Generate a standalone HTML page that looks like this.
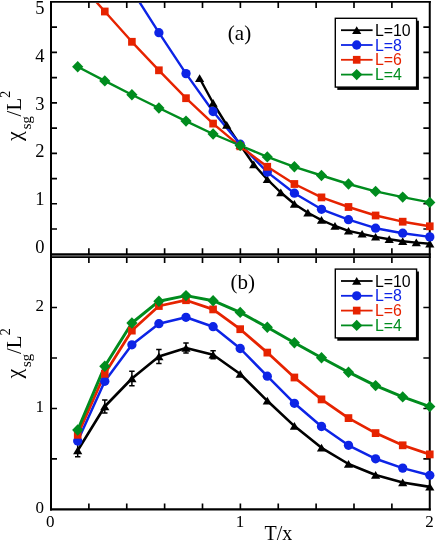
<!DOCTYPE html>
<html><head><meta charset="utf-8"><title>chart</title>
<style>
html,body{margin:0;padding:0;background:#fff;}
body{width:436px;height:544px;overflow:hidden;font-family:"Liberation Serif",serif;}
svg{display:block;will-change:transform;}
svg text{font-family:"Liberation Serif",serif;fill:#000;}
</style></head><body>
<svg width="436" height="544" viewBox="0 0 436 544">
<defs>
<clipPath id="ca"><rect x="40" y="3.0" width="400" height="256.3"/></clipPath>
<clipPath id="cb"><rect x="40" y="258.1" width="400" height="256.3"/></clipPath>
</defs>
<rect width="436" height="544" fill="#fff"/>
<path d="M50 255.7 H430.7" stroke="#7a7a7a" stroke-width="1.2"/>
<path d="M50.00 1.95 H430.75" stroke="#000" stroke-width="1.8"/>
<path d="M50.00 254.25 H430.75" stroke="#000" stroke-width="1.9"/>
<path d="M50.00 257.05 H430.75" stroke="#000" stroke-width="1.7"/>
<path d="M50.00 509.40 H430.75" stroke="#000" stroke-width="2.3"/>
<path d="M51.00 1.05 V510.55" stroke="#000" stroke-width="2.0"/>
<path d="M429.75 1.05 V510.55" stroke="#000" stroke-width="2.0"/>
<path d="M88.88 1.95 v6.00 M88.88 254.25 v-6.00 M88.88 257.05 v6.00 M88.88 509.40 v-6.00 M126.75 1.95 v6.00 M126.75 254.25 v-6.00 M126.75 257.05 v6.00 M126.75 509.40 v-6.00 M164.62 1.95 v6.00 M164.62 254.25 v-6.00 M164.62 257.05 v6.00 M164.62 509.40 v-6.00 M202.50 1.95 v6.00 M202.50 254.25 v-6.00 M202.50 257.05 v6.00 M202.50 509.40 v-6.00 M240.38 1.95 v6.00 M240.38 254.25 v-6.00 M240.38 257.05 v6.00 M240.38 509.40 v-6.00 M278.25 1.95 v6.00 M278.25 254.25 v-6.00 M278.25 257.05 v6.00 M278.25 509.40 v-6.00 M316.12 1.95 v6.00 M316.12 254.25 v-6.00 M316.12 257.05 v6.00 M316.12 509.40 v-6.00 M354.00 1.95 v6.00 M354.00 254.25 v-6.00 M354.00 257.05 v6.00 M354.00 509.40 v-6.00 M391.88 1.95 v6.00 M391.88 254.25 v-6.00 M391.88 257.05 v6.00 M391.88 509.40 v-6.00 M51.00 229.02 h6.00 M429.75 229.02 h-6.40 M51.00 203.79 h6.00 M429.75 203.79 h-6.40 M51.00 178.56 h6.00 M429.75 178.56 h-6.40 M51.00 153.33 h6.00 M429.75 153.33 h-6.40 M51.00 128.10 h6.00 M429.75 128.10 h-6.40 M51.00 102.87 h6.00 M429.75 102.87 h-6.40 M51.00 77.64 h6.00 M429.75 77.64 h-6.40 M51.00 52.41 h6.00 M429.75 52.41 h-6.40 M51.00 27.18 h6.00 M429.75 27.18 h-6.40 M51.00 458.93 h6.00 M429.75 458.93 h-6.40 M51.00 408.46 h6.00 M429.75 408.46 h-6.40 M51.00 357.99 h6.00 M429.75 357.99 h-6.40 M51.00 307.52 h6.00 M429.75 307.52 h-6.40" stroke="#000" stroke-width="1.65" fill="none"/>
<g clip-path="url(#ca)">
<polyline fill="none" stroke="#000000" stroke-width="2.4" stroke-linejoin="round" points="199.6,78.2 213.1,103.0 226.7,125.0 240.2,145.0 253.7,164.5 267.3,179.4 280.8,192.5 294.4,204.0 307.9,212.8 321.5,220.1 335.0,226.0 348.5,230.9 362.1,233.9 375.6,236.9 389.2,239.2 402.7,241.3 416.3,242.6 429.8,243.8"/>
<polyline fill="none" stroke="#0d24e6" stroke-width="2.4" stroke-linejoin="round" points="131.9,-9.8 158.9,32.7 186.0,73.6 213.1,111.5 240.2,144.2 267.3,172.1 294.4,193.2 321.5,209.3 348.5,219.7 375.6,228.2 402.7,233.2 429.8,236.9"/>
<polyline fill="none" stroke="#e62300" stroke-width="2.4" stroke-linejoin="round" points="77.7,-19.0 104.8,11.5 131.9,41.8 158.9,70.3 186.0,98.2 213.1,123.6 240.2,146.3 267.3,166.8 294.4,184.0 321.5,197.4 348.5,207.0 375.6,215.5 402.7,221.7 429.8,226.3"/>
<polyline fill="none" stroke="#008c1e" stroke-width="2.4" stroke-linejoin="round" points="77.7,66.7 104.8,80.9 131.9,94.7 158.9,108.0 186.0,121.1 213.1,134.0 240.2,145.5 267.3,156.9 294.4,166.8 321.5,175.5 348.5,184.0 375.6,191.4 402.7,197.1 429.8,202.4"/>
<path d="M199.6 74.2 l4.6 7.7 l-9.2 0z" fill="#000000"/>
<path d="M213.1 99.0 l4.6 7.7 l-9.2 0z" fill="#000000"/>
<path d="M226.7 121.0 l4.6 7.7 l-9.2 0z" fill="#000000"/>
<path d="M240.2 141.0 l4.6 7.7 l-9.2 0z" fill="#000000"/>
<path d="M253.7 160.5 l4.6 7.7 l-9.2 0z" fill="#000000"/>
<path d="M267.3 175.4 l4.6 7.7 l-9.2 0z" fill="#000000"/>
<path d="M280.8 188.5 l4.6 7.7 l-9.2 0z" fill="#000000"/>
<path d="M294.4 200.0 l4.6 7.7 l-9.2 0z" fill="#000000"/>
<path d="M307.9 208.8 l4.6 7.7 l-9.2 0z" fill="#000000"/>
<path d="M321.5 216.1 l4.6 7.7 l-9.2 0z" fill="#000000"/>
<path d="M335.0 222.0 l4.6 7.7 l-9.2 0z" fill="#000000"/>
<path d="M348.5 226.9 l4.6 7.7 l-9.2 0z" fill="#000000"/>
<path d="M362.1 229.9 l4.6 7.7 l-9.2 0z" fill="#000000"/>
<path d="M375.6 232.9 l4.6 7.7 l-9.2 0z" fill="#000000"/>
<path d="M389.2 235.2 l4.6 7.7 l-9.2 0z" fill="#000000"/>
<path d="M402.7 237.3 l4.6 7.7 l-9.2 0z" fill="#000000"/>
<path d="M416.3 238.6 l4.6 7.7 l-9.2 0z" fill="#000000"/>
<path d="M429.8 239.8 l4.6 7.7 l-9.2 0z" fill="#000000"/>
<circle cx="131.9" cy="-9.8" r="4.65" fill="#0d24e6"/>
<circle cx="158.9" cy="32.7" r="4.65" fill="#0d24e6"/>
<circle cx="186.0" cy="73.6" r="4.65" fill="#0d24e6"/>
<circle cx="213.1" cy="111.5" r="4.65" fill="#0d24e6"/>
<circle cx="240.2" cy="144.2" r="4.65" fill="#0d24e6"/>
<circle cx="267.3" cy="172.1" r="4.65" fill="#0d24e6"/>
<circle cx="294.4" cy="193.2" r="4.65" fill="#0d24e6"/>
<circle cx="321.5" cy="209.3" r="4.65" fill="#0d24e6"/>
<circle cx="348.5" cy="219.7" r="4.65" fill="#0d24e6"/>
<circle cx="375.6" cy="228.2" r="4.65" fill="#0d24e6"/>
<circle cx="402.7" cy="233.2" r="4.65" fill="#0d24e6"/>
<circle cx="429.8" cy="236.9" r="4.65" fill="#0d24e6"/>
<rect x="73.9" y="-22.9" width="7.6" height="7.8" fill="#e62300"/>
<rect x="101.0" y="7.6" width="7.6" height="7.8" fill="#e62300"/>
<rect x="128.1" y="37.9" width="7.6" height="7.8" fill="#e62300"/>
<rect x="155.1" y="66.4" width="7.6" height="7.8" fill="#e62300"/>
<rect x="182.2" y="94.3" width="7.6" height="7.8" fill="#e62300"/>
<rect x="209.3" y="119.7" width="7.6" height="7.8" fill="#e62300"/>
<rect x="236.4" y="142.4" width="7.6" height="7.8" fill="#e62300"/>
<rect x="263.5" y="162.9" width="7.6" height="7.8" fill="#e62300"/>
<rect x="290.6" y="180.1" width="7.6" height="7.8" fill="#e62300"/>
<rect x="317.7" y="193.5" width="7.6" height="7.8" fill="#e62300"/>
<rect x="344.7" y="203.1" width="7.6" height="7.8" fill="#e62300"/>
<rect x="371.8" y="211.6" width="7.6" height="7.8" fill="#e62300"/>
<rect x="398.9" y="217.8" width="7.6" height="7.8" fill="#e62300"/>
<rect x="426.0" y="222.4" width="7.6" height="7.8" fill="#e62300"/>
<path d="M77.7 61.0 l5.6 5.7 l-5.6 5.7 l-5.6 -5.7z" fill="#008c1e"/>
<path d="M104.8 75.2 l5.6 5.7 l-5.6 5.7 l-5.6 -5.7z" fill="#008c1e"/>
<path d="M131.9 89.0 l5.6 5.7 l-5.6 5.7 l-5.6 -5.7z" fill="#008c1e"/>
<path d="M158.9 102.3 l5.6 5.7 l-5.6 5.7 l-5.6 -5.7z" fill="#008c1e"/>
<path d="M186.0 115.4 l5.6 5.7 l-5.6 5.7 l-5.6 -5.7z" fill="#008c1e"/>
<path d="M213.1 128.3 l5.6 5.7 l-5.6 5.7 l-5.6 -5.7z" fill="#008c1e"/>
<path d="M240.2 139.8 l5.6 5.7 l-5.6 5.7 l-5.6 -5.7z" fill="#008c1e"/>
<path d="M267.3 151.2 l5.6 5.7 l-5.6 5.7 l-5.6 -5.7z" fill="#008c1e"/>
<path d="M294.4 161.1 l5.6 5.7 l-5.6 5.7 l-5.6 -5.7z" fill="#008c1e"/>
<path d="M321.5 169.8 l5.6 5.7 l-5.6 5.7 l-5.6 -5.7z" fill="#008c1e"/>
<path d="M348.5 178.3 l5.6 5.7 l-5.6 5.7 l-5.6 -5.7z" fill="#008c1e"/>
<path d="M375.6 185.7 l5.6 5.7 l-5.6 5.7 l-5.6 -5.7z" fill="#008c1e"/>
<path d="M402.7 191.4 l5.6 5.7 l-5.6 5.7 l-5.6 -5.7z" fill="#008c1e"/>
<path d="M429.8 196.7 l5.6 5.7 l-5.6 5.7 l-5.6 -5.7z" fill="#008c1e"/>
</g>
<g clip-path="url(#cb)">
<polyline fill="none" stroke="#000000" stroke-width="2.6" stroke-linejoin="round" points="77.7,450.5 104.8,406.5 131.9,378.5 158.9,356.5 186.0,348.0 213.1,354.7 240.2,374.0 267.3,400.8 294.4,426.1 321.5,447.8 348.5,464.0 375.6,475.0 402.7,482.5 429.8,486.9"/>
<polyline fill="none" stroke="#0d24e6" stroke-width="2.5" stroke-linejoin="round" points="77.7,441.0 104.8,381.3 131.9,344.8 158.9,323.7 186.0,317.3 213.1,326.7 240.2,348.5 267.3,376.2 294.4,403.3 321.5,426.5 348.5,445.3 375.6,458.8 402.7,468.1 429.8,475.3"/>
<polyline fill="none" stroke="#e62300" stroke-width="2.75" stroke-linejoin="round" points="77.7,434.8 104.8,373.8 131.9,330.6 158.9,306.0 186.0,300.2 213.1,309.4 240.2,329.2 267.3,352.6 294.4,377.5 321.5,399.4 348.5,418.1 375.6,433.1 402.7,445.3 429.8,454.4"/>
<polyline fill="none" stroke="#008c1e" stroke-width="3.0" stroke-linejoin="round" points="77.7,430.0 104.8,366.2 131.9,323.0 158.9,301.2 186.0,295.6 213.1,300.7 240.2,312.4 267.3,327.3 294.4,342.7 321.5,357.8 348.5,372.2 375.6,385.6 402.7,396.9 429.8,406.6"/>
<path d="M77.7 444.3 V456.7 M75.0 444.3 h5.4 M75.0 456.7 h5.4" stroke="#000" stroke-width="1.5" fill="none"/>
<path d="M104.8 400.0 V413.0 M102.1 400.0 h5.4 M102.1 413.0 h5.4" stroke="#000" stroke-width="1.5" fill="none"/>
<path d="M131.9 371.3 V385.7 M129.2 371.3 h5.4 M129.2 385.7 h5.4" stroke="#000" stroke-width="1.5" fill="none"/>
<path d="M158.9 349.5 V363.5 M156.2 349.5 h5.4 M156.2 363.5 h5.4" stroke="#000" stroke-width="1.5" fill="none"/>
<path d="M186.0 343.0 V353.0 M183.3 343.0 h5.4 M183.3 353.0 h5.4" stroke="#000" stroke-width="1.5" fill="none"/>
<path d="M213.1 350.7 V358.7 M210.4 350.7 h5.4 M210.4 358.7 h5.4" stroke="#000" stroke-width="1.5" fill="none"/>
<path d="M77.7 446.5 l4.6 7.7 l-9.2 0z" fill="#000000"/>
<path d="M104.8 402.5 l4.6 7.7 l-9.2 0z" fill="#000000"/>
<path d="M131.9 374.5 l4.6 7.7 l-9.2 0z" fill="#000000"/>
<path d="M158.9 352.5 l4.6 7.7 l-9.2 0z" fill="#000000"/>
<path d="M186.0 344.0 l4.6 7.7 l-9.2 0z" fill="#000000"/>
<path d="M213.1 350.7 l4.6 7.7 l-9.2 0z" fill="#000000"/>
<path d="M240.2 370.0 l4.6 7.7 l-9.2 0z" fill="#000000"/>
<path d="M267.3 396.8 l4.6 7.7 l-9.2 0z" fill="#000000"/>
<path d="M294.4 422.1 l4.6 7.7 l-9.2 0z" fill="#000000"/>
<path d="M321.5 443.8 l4.6 7.7 l-9.2 0z" fill="#000000"/>
<path d="M348.5 460.0 l4.6 7.7 l-9.2 0z" fill="#000000"/>
<path d="M375.6 471.0 l4.6 7.7 l-9.2 0z" fill="#000000"/>
<path d="M402.7 478.5 l4.6 7.7 l-9.2 0z" fill="#000000"/>
<path d="M429.8 482.9 l4.6 7.7 l-9.2 0z" fill="#000000"/>
<circle cx="77.7" cy="441.0" r="4.65" fill="#0d24e6"/>
<circle cx="104.8" cy="381.3" r="4.65" fill="#0d24e6"/>
<circle cx="131.9" cy="344.8" r="4.65" fill="#0d24e6"/>
<circle cx="158.9" cy="323.7" r="4.65" fill="#0d24e6"/>
<circle cx="186.0" cy="317.3" r="4.65" fill="#0d24e6"/>
<circle cx="213.1" cy="326.7" r="4.65" fill="#0d24e6"/>
<circle cx="240.2" cy="348.5" r="4.65" fill="#0d24e6"/>
<circle cx="267.3" cy="376.2" r="4.65" fill="#0d24e6"/>
<circle cx="294.4" cy="403.3" r="4.65" fill="#0d24e6"/>
<circle cx="321.5" cy="426.5" r="4.65" fill="#0d24e6"/>
<circle cx="348.5" cy="445.3" r="4.65" fill="#0d24e6"/>
<circle cx="375.6" cy="458.8" r="4.65" fill="#0d24e6"/>
<circle cx="402.7" cy="468.1" r="4.65" fill="#0d24e6"/>
<circle cx="429.8" cy="475.3" r="4.65" fill="#0d24e6"/>
<rect x="73.9" y="430.9" width="7.6" height="7.8" fill="#e62300"/>
<rect x="101.0" y="369.9" width="7.6" height="7.8" fill="#e62300"/>
<rect x="128.1" y="326.7" width="7.6" height="7.8" fill="#e62300"/>
<rect x="155.1" y="302.1" width="7.6" height="7.8" fill="#e62300"/>
<rect x="182.2" y="296.3" width="7.6" height="7.8" fill="#e62300"/>
<rect x="209.3" y="305.5" width="7.6" height="7.8" fill="#e62300"/>
<rect x="236.4" y="325.3" width="7.6" height="7.8" fill="#e62300"/>
<rect x="263.5" y="348.7" width="7.6" height="7.8" fill="#e62300"/>
<rect x="290.6" y="373.6" width="7.6" height="7.8" fill="#e62300"/>
<rect x="317.7" y="395.5" width="7.6" height="7.8" fill="#e62300"/>
<rect x="344.7" y="414.2" width="7.6" height="7.8" fill="#e62300"/>
<rect x="371.8" y="429.2" width="7.6" height="7.8" fill="#e62300"/>
<rect x="398.9" y="441.4" width="7.6" height="7.8" fill="#e62300"/>
<rect x="426.0" y="450.5" width="7.6" height="7.8" fill="#e62300"/>
<path d="M77.7 424.3 l5.6 5.7 l-5.6 5.7 l-5.6 -5.7z" fill="#008c1e"/>
<path d="M104.8 360.5 l5.6 5.7 l-5.6 5.7 l-5.6 -5.7z" fill="#008c1e"/>
<path d="M131.9 317.3 l5.6 5.7 l-5.6 5.7 l-5.6 -5.7z" fill="#008c1e"/>
<path d="M158.9 295.5 l5.6 5.7 l-5.6 5.7 l-5.6 -5.7z" fill="#008c1e"/>
<path d="M186.0 289.9 l5.6 5.7 l-5.6 5.7 l-5.6 -5.7z" fill="#008c1e"/>
<path d="M213.1 295.0 l5.6 5.7 l-5.6 5.7 l-5.6 -5.7z" fill="#008c1e"/>
<path d="M240.2 306.7 l5.6 5.7 l-5.6 5.7 l-5.6 -5.7z" fill="#008c1e"/>
<path d="M267.3 321.6 l5.6 5.7 l-5.6 5.7 l-5.6 -5.7z" fill="#008c1e"/>
<path d="M294.4 337.0 l5.6 5.7 l-5.6 5.7 l-5.6 -5.7z" fill="#008c1e"/>
<path d="M321.5 352.1 l5.6 5.7 l-5.6 5.7 l-5.6 -5.7z" fill="#008c1e"/>
<path d="M348.5 366.5 l5.6 5.7 l-5.6 5.7 l-5.6 -5.7z" fill="#008c1e"/>
<path d="M375.6 379.9 l5.6 5.7 l-5.6 5.7 l-5.6 -5.7z" fill="#008c1e"/>
<path d="M402.7 391.2 l5.6 5.7 l-5.6 5.7 l-5.6 -5.7z" fill="#008c1e"/>
<path d="M429.8 400.9 l5.6 5.7 l-5.6 5.7 l-5.6 -5.7z" fill="#008c1e"/>
</g>
<text x="44.6" y="252.8" text-anchor="end" font-size="18.5">0</text>
<text x="44.6" y="205.1" text-anchor="end" font-size="18.5">1</text>
<text x="44.6" y="157.4" text-anchor="end" font-size="18.5">2</text>
<text x="44.6" y="109.6" text-anchor="end" font-size="18.5">3</text>
<text x="44.6" y="61.9" text-anchor="end" font-size="18.5">4</text>
<text x="44.6" y="14.2" text-anchor="end" font-size="18.5">5</text>
<text x="44.0" y="310.6" text-anchor="end" font-size="17">2</text>
<text x="44.0" y="412.0" text-anchor="end" font-size="17">1</text>
<text x="44.0" y="513.1" text-anchor="end" font-size="17">0</text>
<text x="50.3" y="526.7" text-anchor="middle" font-size="17">0</text>
<text x="240.1" y="526.7" text-anchor="middle" font-size="17">1</text>
<text x="429.5" y="526.7" text-anchor="middle" font-size="17">2</text>
<text x="239.5" y="40" text-anchor="middle" font-size="21">(a)</text>
<text x="242.8" y="288.9" text-anchor="middle" font-size="21">(b)</text>
<text x="264.5" y="540.4" font-size="20">T/x</text>
<text transform="translate(21.0,141.0) rotate(-90)" font-size="22">χ</text>
<text transform="translate(31.3,129.3) rotate(-90)" font-size="14.7">s</text>
<text transform="translate(31.3,123.6) rotate(-90)" font-size="14.7">g</text>
<text transform="translate(21.0,116.4) rotate(-90)" font-size="21">/</text>
<text transform="translate(21.0,110.6) rotate(-90)" font-size="21">L</text>
<text transform="translate(10.4,97.9) rotate(-90)" font-size="14.7">2</text>
<text transform="translate(21.0,378.6) rotate(-90)" font-size="22">χ</text>
<text transform="translate(31.3,366.9) rotate(-90)" font-size="14.7">s</text>
<text transform="translate(31.3,361.2) rotate(-90)" font-size="14.7">g</text>
<text transform="translate(21.0,354.0) rotate(-90)" font-size="21">/</text>
<text transform="translate(21.0,348.2) rotate(-90)" font-size="21">L</text>
<text transform="translate(10.4,335.5) rotate(-90)" font-size="14.7">2</text>
<rect x="337.3" y="20.7" width="81.6" height="69.2" fill="#000"/>
<rect x="335.3" y="18.3" width="81.3" height="68.8" fill="#fff" stroke="#000" stroke-width="1.4"/>
<path d="M341 30.2 H372.6" stroke="#000000" stroke-width="1.8"/>
<path d="M356.7 26.2 l4.6 7.7 l-9.2 0z" fill="#000000"/>
<text x="374.9" y="35.8" font-size="15.9" style="fill:#000000;font-family:&quot;Liberation Sans&quot;,sans-serif">L=10</text>
<path d="M341 45.0 H372.6" stroke="#0d24e6" stroke-width="1.8"/>
<circle cx="356.7" cy="45.0" r="4.65" fill="#0d24e6"/>
<text x="374.9" y="50.6" font-size="15.9" style="fill:#0d24e6;font-family:&quot;Liberation Sans&quot;,sans-serif">L=8</text>
<path d="M341 59.8 H372.6" stroke="#e62300" stroke-width="1.8"/>
<rect x="352.9" y="55.9" width="7.6" height="7.8" fill="#e62300"/>
<text x="374.9" y="65.4" font-size="15.9" style="fill:#e62300;font-family:&quot;Liberation Sans&quot;,sans-serif">L=6</text>
<path d="M341 74.6 H372.6" stroke="#008c1e" stroke-width="1.8"/>
<path d="M356.7 68.9 l5.6 5.7 l-5.6 5.7 l-5.6 -5.7z" fill="#008c1e"/>
<text x="374.9" y="80.2" font-size="15.9" style="fill:#008c1e;font-family:&quot;Liberation Sans&quot;,sans-serif">L=4</text>
<rect x="337.3" y="271.5" width="81.6" height="69.2" fill="#000"/>
<rect x="335.3" y="269.1" width="81.3" height="68.8" fill="#fff" stroke="#000" stroke-width="1.4"/>
<path d="M341 281.0 H372.6" stroke="#000000" stroke-width="1.8"/>
<path d="M356.7 277.0 l4.6 7.7 l-9.2 0z" fill="#000000"/>
<text x="374.9" y="286.6" font-size="15.9" style="fill:#000000;font-family:&quot;Liberation Sans&quot;,sans-serif">L=10</text>
<path d="M341 295.8 H372.6" stroke="#0d24e6" stroke-width="1.8"/>
<circle cx="356.7" cy="295.8" r="4.65" fill="#0d24e6"/>
<text x="374.9" y="301.4" font-size="15.9" style="fill:#0d24e6;font-family:&quot;Liberation Sans&quot;,sans-serif">L=8</text>
<path d="M341 310.6 H372.6" stroke="#e62300" stroke-width="1.8"/>
<rect x="352.9" y="306.7" width="7.6" height="7.8" fill="#e62300"/>
<text x="374.9" y="316.2" font-size="15.9" style="fill:#e62300;font-family:&quot;Liberation Sans&quot;,sans-serif">L=6</text>
<path d="M341 325.4 H372.6" stroke="#008c1e" stroke-width="1.8"/>
<path d="M356.7 319.7 l5.6 5.7 l-5.6 5.7 l-5.6 -5.7z" fill="#008c1e"/>
<text x="374.9" y="331.0" font-size="15.9" style="fill:#008c1e;font-family:&quot;Liberation Sans&quot;,sans-serif">L=4</text>
</svg>
</body></html>
